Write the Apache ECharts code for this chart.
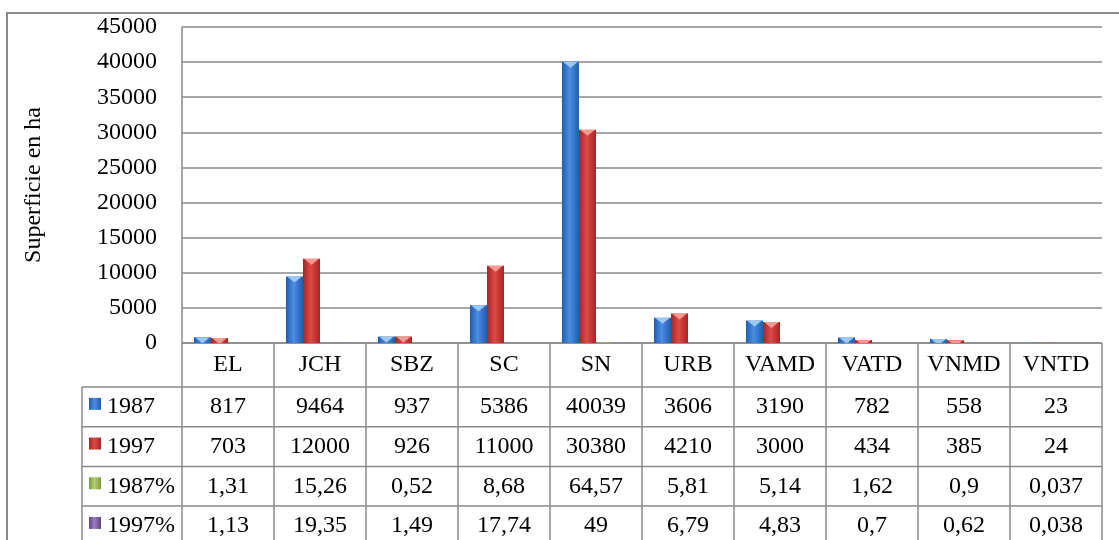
<!DOCTYPE html>
<html>
<head>
<meta charset="utf-8">
<script src="https://cdn.jsdelivr.net/npm/echarts@6/dist/echarts.min.js"></script>
<style>
  html, body { margin: 0; padding: 0; background: #fff; }
  #chart { width: 1119px; height: 540px; }
</style>
</head>
<body>
<div id="chart"></div>
<script>
var categories = ['EL', 'JCH', 'SBZ', 'SC', 'SN', 'URB', 'VAMD', 'VATD', 'VNMD', 'VNTD'];
var seriesNames = ['1987', '1997', '1987%', '1997%'];
var v1987 = [817, 9464, 937, 5386, 40039, 3606, 3190, 782, 558, 23];
var v1997 = [703, 12000, 926, 11000, 30380, 4210, 3000, 434, 385, 24];
var p1987 = [1.31, 15.26, 0.52, 8.68, 64.57, 5.81, 5.14, 1.62, 0.9, 0.037];
var p1997 = [1.13, 19.35, 1.49, 17.74, 49, 6.79, 4.83, 0.7, 0.62, 0.038];
var yTicks = [0, 45000, 5000];

var font = 'Liberation Serif';
var fs = 24;
var lineCol = '#8a8a8a';
// edge, centre, top facet colour per series
var pal = [['#1f5dae', '#4a8ee2', '#9cc8f6'], ['#a82424', '#dc4a46', '#f39a92'],
           ['#7a9a3a', '#b5d070', '#d8eaa8'], ['#5e4586', '#9a7fc0', '#c8b6e2']];

function grad(c) {
  return new echarts.graphic.LinearGradient(0, 0, 1, 0, [
    { offset: 0, color: c[0] }, { offset: 0.45, color: c[1] }, { offset: 1, color: c[0] }
  ]);
}
function fmt(v) { return String(v).replace('.', ','); }

var rows = [v1987, v1997, p1987, p1997];
var barW = 17;
var chart = echarts.init(document.getElementById('chart'));

var series = rows.map(function (d, i) {
  return {
    name: seriesNames[i], type: 'bar', data: d,
    barGap: 0, barCategoryGap: '26%',
    itemStyle: { color: grad(pal[i]) }
  };
});
// light bevel triangle on top of the two visible bars
[0, 1].forEach(function (i) {
  series.push({
    type: 'pictorialBar', data: rows[i], z: 3,
    symbol: 'path://M0,0 L10,0 L5,6 Z',
    symbolSize: [barW - 2, 6],
    symbolPosition: 'end',
    symbolClip: true,
    symbolOffset: [(i - 1.5) * barW, 0],
    itemStyle: { color: pal[i][2] },
    silent: true
  });
});

var option = {
  animation: false,
  textStyle: { fontFamily: font },
  grid: { left: 182, right: 17, top: 27, bottom: 197 },
  xAxis: {
    type: 'category',
    data: categories,
    axisLine: { show: false },
    axisTick: { show: false },
    axisLabel: { color: '#000', fontSize: fs, fontFamily: font, margin: 10, interval: 0 }
  },
  yAxis: {
    type: 'value',
    min: yTicks[0], max: yTicks[1], interval: yTicks[2],
    name: 'Superficie en ha',
    nameLocation: 'middle',
    nameGap: 136,
    nameRotate: 90,
    nameTextStyle: { color: '#000', fontSize: fs, fontFamily: font },
    axisLine: { show: true, lineStyle: { color: lineCol, width: 1.5 } },
    axisTick: { show: false },
    axisLabel: { color: '#000', fontSize: fs, fontFamily: font, margin: 25, formatter: function (v) { return String(v); } },
    splitLine: { lineStyle: { color: lineCol, width: 1.5 } }
  },
  series: series
};
chart.setOption(option);

// data table under the plot
var g = [];
var x0 = chart.convertToPixel({ xAxisIndex: 0 }, 0);
var x1 = chart.convertToPixel({ xAxisIndex: 0 }, 1);
var bw = x1 - x0;
var left = x0 - bw / 2, right = left + bw * categories.length;
var yTop = 343, yHead = 387, rh = 39.7, keyLeft = 82;
var lst = { stroke: lineCol, lineWidth: 1.5 };

g.push({ type: 'rect', shape: { x: 7, y: 13, width: 1130, height: 600 }, style: { fill: null, stroke: lineCol, lineWidth: 2 } });
g.push({ type: 'line', shape: { x1: left, y1: yTop, x2: right, y2: yTop }, style: lst });
for (var r = 0; r <= rows.length; r++) {
  var yy = yHead + r * rh;
  g.push({ type: 'line', shape: { x1: keyLeft, y1: yy, x2: right, y2: yy }, style: lst });
}
g.push({ type: 'line', shape: { x1: keyLeft, y1: yHead, x2: keyLeft, y2: 560 }, style: lst });
for (var c = 0; c <= categories.length; c++) {
  var xx = left + c * bw;
  g.push({ type: 'line', shape: { x1: xx, y1: yTop, x2: xx, y2: 560 }, style: lst });
}
rows.forEach(function (d, r) {
  var cy = yHead + r * rh + rh / 2;
  g.push({ type: 'rect', shape: { x: 89, y: cy - 9, width: 12, height: 12 }, style: { fill: grad(pal[r]) } });
  g.push({ type: 'text', x: 107, y: cy, style: { text: seriesNames[r], fill: '#000', font: fs + 'px "' + font + '"', verticalAlign: 'middle' } });
  d.forEach(function (v, i) {
    g.push({
      type: 'text', x: chart.convertToPixel({ xAxisIndex: 0 }, i), y: cy,
      style: { text: fmt(v), fill: '#000', font: fs + 'px "' + font + '"', align: 'center', verticalAlign: 'middle' }
    });
  });
});
chart.setOption({ graphic: g });
</script>
</body>
</html>
